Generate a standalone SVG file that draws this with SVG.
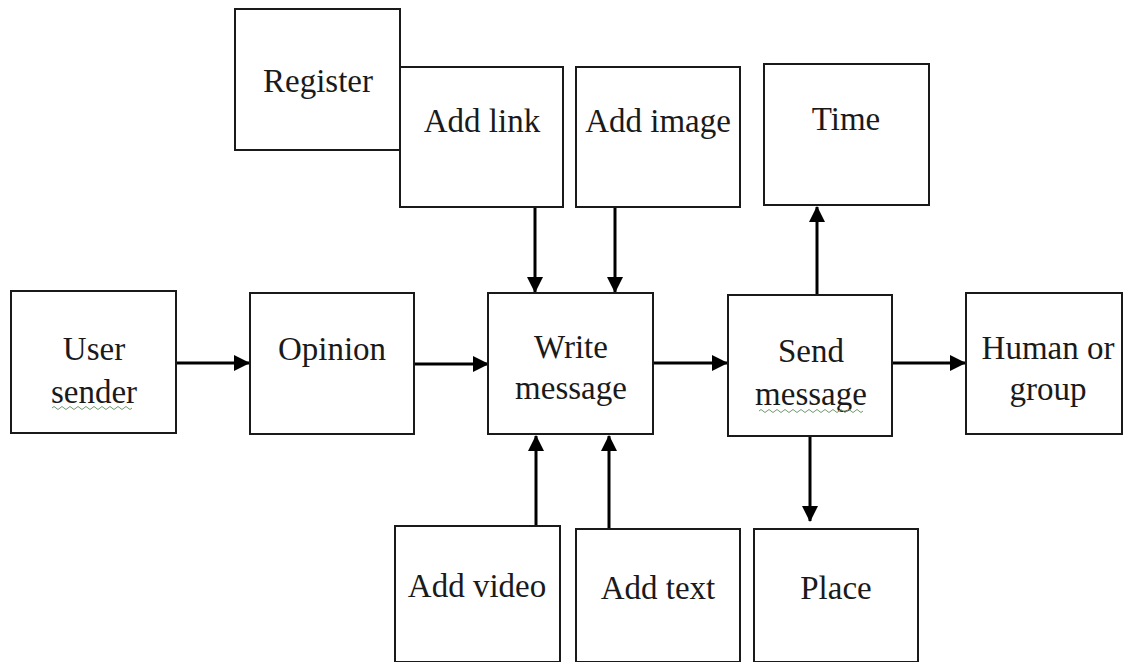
<svg xmlns="http://www.w3.org/2000/svg" width="1124" height="662" viewBox="0 0 1124 662">
<style>
.box{fill:#fff;stroke:#1a1a1a;stroke-width:2}
.lbl{font-family:"Liberation Serif","Times New Roman",serif;font-size:33px;fill:#1a1a1a;text-anchor:middle}
.con{stroke:#000;stroke-width:3;fill:none}
.sq{stroke:#6f9a6f;stroke-width:1;fill:none}
</style>
<defs>
<marker id="ah" markerUnits="userSpaceOnUse" markerWidth="16" markerHeight="16" viewBox="0 0 16 16" refX="15" refY="8" orient="auto">
<path d="M0,0 L16,8 L0,16 z" fill="#000"/>
</marker>
</defs>
<rect width="1124" height="662" fill="#fff"/>
<g id="connectors">
<line class="con" x1="176" y1="363" x2="249" y2="363" marker-end="url(#ah)"/>
<line class="con" x1="414" y1="364" x2="488" y2="364" marker-end="url(#ah)"/>
<line class="con" x1="653" y1="363" x2="727" y2="363" marker-end="url(#ah)"/>
<line class="con" x1="892" y1="363" x2="965" y2="363" marker-end="url(#ah)"/>
<line class="con" x1="535" y1="207" x2="535" y2="292" marker-end="url(#ah)"/>
<line class="con" x1="615" y1="207" x2="615" y2="292" marker-end="url(#ah)"/>
<line class="con" x1="536" y1="526" x2="536" y2="436" marker-end="url(#ah)"/>
<line class="con" x1="609" y1="529" x2="609" y2="436" marker-end="url(#ah)"/>
<line class="con" x1="817" y1="295" x2="817" y2="207" marker-end="url(#ah)"/>
<line class="con" x1="810" y1="436" x2="810" y2="521" marker-end="url(#ah)"/>
</g>
<g id="register"><rect class="box" x="235" y="9" width="165" height="141"/><text class="lbl" x="318" y="92">Register</text></g>
<g id="add-link"><rect class="box" x="400" y="67" width="163" height="140"/><text class="lbl" x="482" y="132">Add link</text></g>
<g id="add-image"><rect class="box" x="576" y="67" width="164" height="140"/><text class="lbl" x="658" y="132">Add image</text></g>
<g id="time"><rect class="box" x="764" y="64" width="165" height="141"/><text class="lbl" x="846" y="130">Time</text></g>
<g id="user-sender"><rect class="box" x="11" y="291" width="165" height="142"/><text class="lbl" x="94" y="360">User</text><text class="lbl" x="94" y="403">sender</text><path class="sq" d="M52,408 q2,-3 4,0 t4,0 t4,0 t4,0 t4,0 t4,0 t4,0 t4,0 t4,0 t4,0 t4,0 t4,0 t4,0 t4,0 t4,0 t4,0 t4,0 t4,0 t4,0 t4,0"/></g>
<g id="opinion"><rect class="box" x="250" y="293" width="164" height="141"/><text class="lbl" x="332" y="360">Opinion</text></g>
<g id="write-message"><rect class="box" x="488" y="293" width="165" height="141"/><text class="lbl" x="571" y="358">Write</text><text class="lbl" x="571" y="399">message</text></g>
<g id="send-message"><rect class="box" x="728" y="295" width="164" height="141"/><text class="lbl" x="811" y="362">Send</text><text class="lbl" x="811" y="405">message</text><path class="sq" d="M759,411 q2,-3 4,0 t4,0 t4,0 t4,0 t4,0 t4,0 t4,0 t4,0 t4,0 t4,0 t4,0 t4,0 t4,0 t4,0 t4,0 t4,0 t4,0 t4,0 t4,0 t4,0 t4,0 t4,0 t4,0 t4,0 t4,0 t4,0"/></g>
<g id="human-or-group"><rect class="box" x="966" y="293" width="156" height="141"/><text class="lbl" x="1048" y="359">Human or</text><text class="lbl" x="1048" y="400">group</text></g>
<g id="add-video"><rect class="box" x="395" y="526" width="165" height="136"/><text class="lbl" x="477" y="597">Add video</text></g>
<g id="add-text"><rect class="box" x="576" y="529" width="164" height="133"/><text class="lbl" x="658" y="599">Add text</text></g>
<g id="place"><rect class="box" x="754" y="529" width="164" height="133"/><text class="lbl" x="836" y="599">Place</text></g>
</svg>
